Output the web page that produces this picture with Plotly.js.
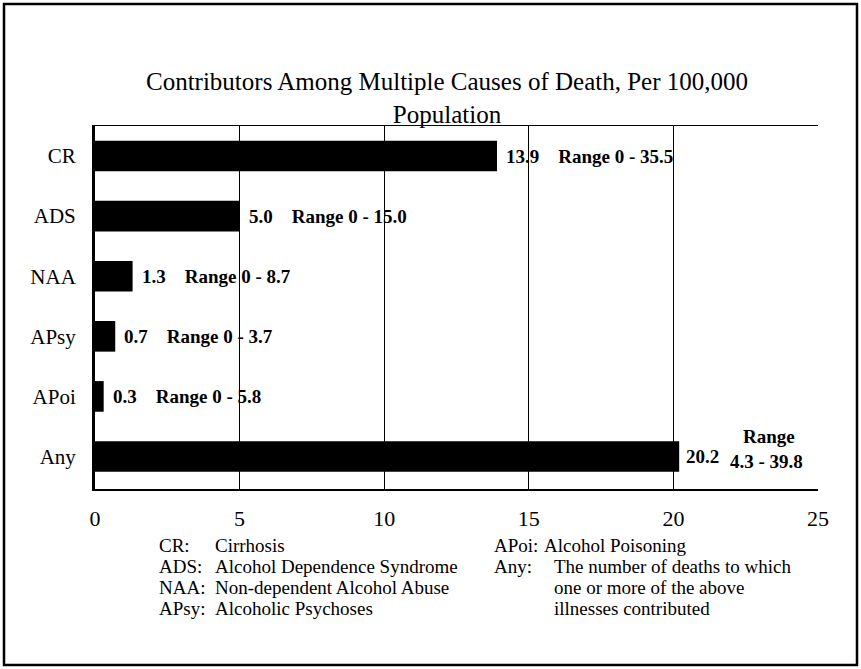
<!DOCTYPE html>
<html>
<head>
<meta charset="utf-8">
<script src="https://cdn.plot.ly/plotly-3.0.1.min.js"></script>
<style>
  html, body { margin: 0; padding: 0; background: #fff; }
  #chart { width: 861px; height: 669px; }
</style>
</head>
<body>
<div id="chart"></div>
<script>
// ---- data ----
const categories = ["CR", "ADS", "NAA", "APsy", "APoi", "Any"];
const values = [13.9, 5.0, 1.3, 0.7, 0.3, 20.2];
const rangeLow = [0, 0, 0, 0, 0, 4.3];
const rangeHigh = [35.5, 15.0, 8.7, 3.7, 5.8, 39.8];
const xTicks = [0, 5, 10, 15, 20, 25];
const legendLeftKeys = ["CR:", "ADS:", "NAA:", "APsy:"];
const legendLeftText = ["Cirrhosis", "Alcohol Dependence Syndrome", "Non-dependent Alcohol Abuse", "Alcoholic Psychoses"];
const legendRightKeys = ["APoi:", "Any:", "", ""];
const legendRightText = ["Alcohol Poisoning", "The number of deaths to which", "one or more of the above", "illnesses contributed"];
const titleText = "Contributors Among Multiple Causes of Death, Per 100,000<br>Population";

// ---- layout helpers ----
const W = 861, H = 669;
const M = { l: 95, r: 43, t: 126, b: 180 };
const PW = W - M.l - M.r, PH = H - M.t - M.b;
const px = x => (x - M.l) / PW;
const py = y => 1 - (y - M.t) / PH;
const SERIF = "Liberation Serif, Times New Roman, serif";
const SP = "&nbsp;";

const annotations = [];
const labelFont = { family: SERIF, size: 19, color: "#000" };
categories.forEach((c, i) => {
  const v = values[i];
  if (c !== "Any") {
    annotations.push({
      x: v, y: c, xref: "x", yref: "y", xanchor: "left", yanchor: "middle",
      xshift: 7, showarrow: false,
      text: "<b>" + v.toFixed(1) + SP.repeat(4) + "Range " + rangeLow[i] + " - " + rangeHigh[i].toFixed(1) + "</b>",
      font: labelFont
    });
  } else {
    annotations.push({
      x: v, y: c, xref: "x", yref: "y", xanchor: "left", yanchor: "middle",
      xshift: 5, showarrow: false,
      text: "<b>" + v.toFixed(1) + "</b>",
      font: labelFont
    });
    annotations.push({
      x: v, y: c, xref: "x", yref: "y", xanchor: "left", yanchor: "middle",
      xshift: 49, yshift: -5, showarrow: false,
      text: "<b>" + rangeLow[i].toFixed(1) + " - " + rangeHigh[i].toFixed(1) + "</b>",
      font: labelFont
    });
    annotations.push({
      x: v, y: c, xref: "x", yref: "y", xanchor: "center", yanchor: "middle",
      xshift: 90, yshift: 20, showarrow: false,
      text: "<b>Range</b>",
      font: labelFont
    });
  }
});

const legendYs = [545, 566, 587, 608];
const legFont = { family: SERIF, size: 19, color: "#000" };
legendLeftKeys.forEach((k, i) => {
  annotations.push({ x: px(157), y: py(legendYs[i]), xref: "paper", yref: "paper",
    xanchor: "left", yanchor: "middle", showarrow: false, text: k, font: legFont });
  annotations.push({ x: px(213), y: py(legendYs[i]), xref: "paper", yref: "paper",
    xanchor: "left", yanchor: "middle", showarrow: false, text: legendLeftText[i], font: legFont });
});
legendRightKeys.forEach((k, i) => {
  if (k) annotations.push({ x: px(492), y: py(legendYs[i]), xref: "paper", yref: "paper",
    xanchor: "left", yanchor: "middle", showarrow: false, text: k, font: legFont });
  annotations.push({ x: px(i === 0 ? 542 : 552), y: py(legendYs[i]), xref: "paper", yref: "paper",
    xanchor: "left", yanchor: "middle", showarrow: false, text: legendRightText[i], font: legFont });
});

const trace = {
  type: "bar", orientation: "h",
  x: values, y: categories,
  marker: { color: "#000", line: { width: 0 } },
  hoverinfo: "skip"
};

const layout = {
  width: W, height: H,
  margin: M,
  paper_bgcolor: "#fff", plot_bgcolor: "#fff",
  showlegend: false,
  bargap: 0.49,
  title: {
    text: titleText,
    font: { family: SERIF, size: 25, color: "#000" },
    x: px(447), xref: "paper", xanchor: "center",
    y: 1 - 90 / H, yref: "container", yanchor: "middle"
  },
  xaxis: {
    range: [0, 25], tickvals: xTicks, ticktext: xTicks.map(String),
    showgrid: true, gridcolor: "#000", gridwidth: 1,
    zeroline: false, showline: true, linecolor: "#000", linewidth: 1.5, mirror: true,
    ticks: "", ticklabelstandoff: 9,
    tickfont: { family: SERIF, size: 22, color: "#000" },
    fixedrange: true
  },
  yaxis: {
    type: "category", autorange: "reversed",
    showgrid: false, zeroline: false, showline: true, linecolor: "#000", linewidth: 3,
    ticks: "", ticklabelstandoff: 12,
    tickfont: { family: SERIF, size: 21, color: "#000" },
    fixedrange: true
  },
  shapes: [{
    type: "rect", xref: "paper", yref: "paper",
    x0: px(4), x1: px(857), y0: py(665), y1: py(4),
    line: { color: "#000", width: 2.5 }, fillcolor: "rgba(0,0,0,0)", layer: "below"
  }],
  annotations: annotations
};

Plotly.newPlot("chart", [trace], layout, { displayModeBar: false, staticPlot: true });
</script>
</body>
</html>
